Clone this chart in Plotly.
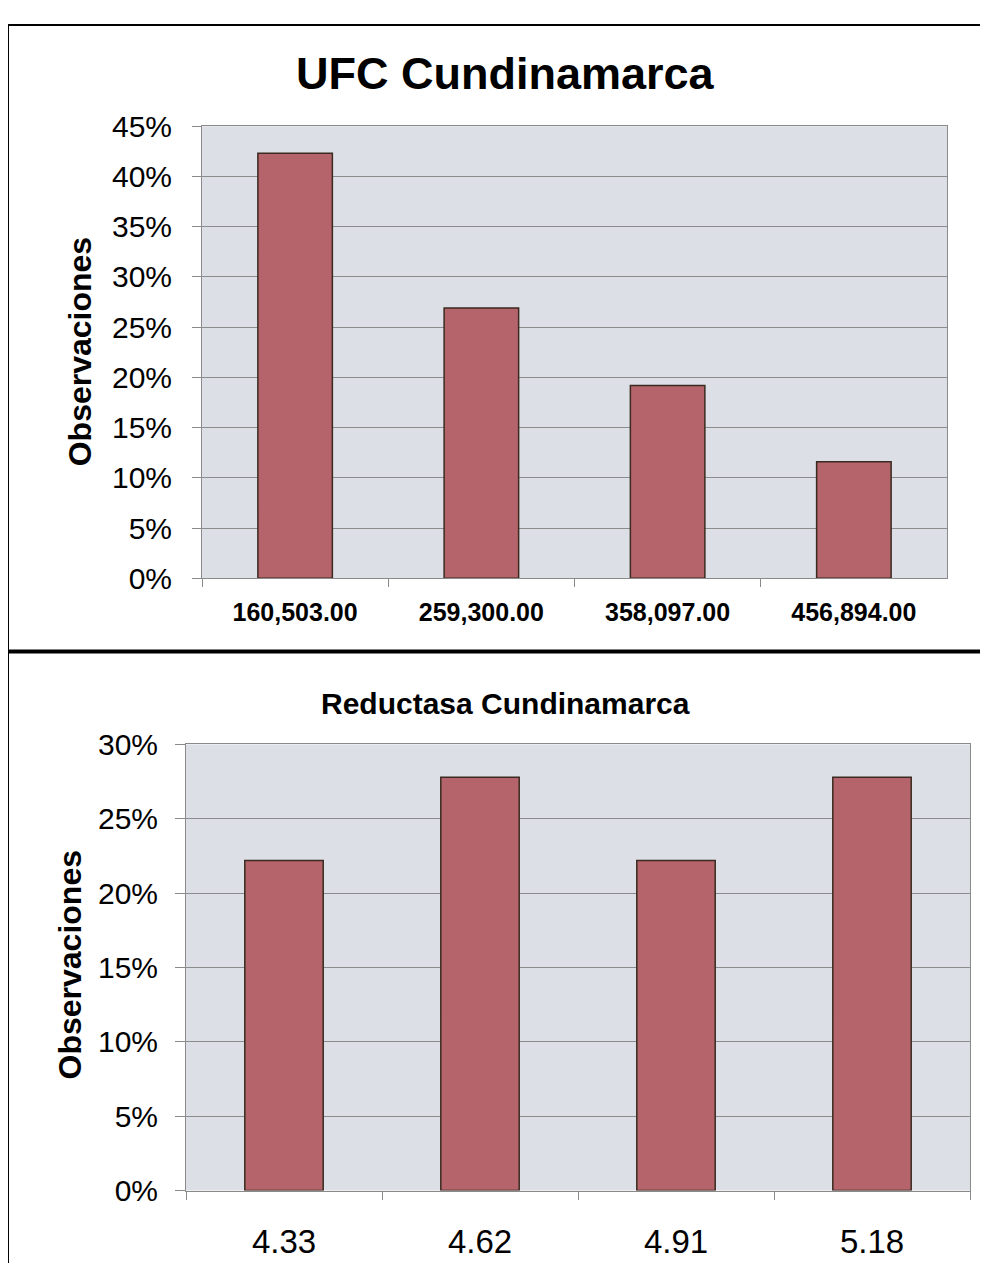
import plotly.graph_objs as go

# top chart: UFC Cundinamarca
ufc_cats = ['160,503.00', '259,300.00', '358,097.00', '456,894.00']
ufc_vals = [0.423, 0.269, 0.192, 0.116]
ufc_ticks = [0, 0.05, 0.10, 0.15, 0.20, 0.25, 0.30, 0.35, 0.40, 0.45]

# bottom chart: Reductasa Cundinamarca
red_cats = ['4.33', '4.62', '4.91', '5.18']
red_vals = [0.222, 0.278, 0.222, 0.278]
red_ticks = [0, 0.05, 0.10, 0.15, 0.20, 0.25, 0.30]

# page margin is 8px; vertical placement corrected for how the page is captured
W, H = 972, 1272
bar_fill = '#b5646c'
bar_line = '#3a2a20'
grid = '#8c8c8c'
bg = '#dcdfe6'
font = 'Liberation Sans, Arial, sans-serif'


def px(x):
    return (x - 8) / W


def py(y):
    fy = (y - 17) / 0.973 - 8
    return min(1.0, 1 - fy / H)


fig = go.Figure()

fig.add_trace(go.Bar(x=ufc_cats, y=ufc_vals, xaxis='x', yaxis='y',
                     marker=dict(color=bar_fill, line=dict(color=bar_line, width=1.5))))
fig.add_trace(go.Bar(x=red_cats, y=red_vals, xaxis='x2', yaxis='y2',
                     marker=dict(color=bar_fill, line=dict(color=bar_line, width=1.5))))

axis_common = dict(showline=True, linecolor='#8a8a8a', linewidth=1, mirror=True,
                   ticks='outside', tickcolor='#8a8a8a', zeroline=False)

fig.update_layout(
    width=W, height=H,
    margin=dict(l=0, r=0, t=0, b=0),
    paper_bgcolor='white', plot_bgcolor=bg,
    showlegend=False, bargap=0.6,
    font=dict(family=font, color='black'),
    xaxis=dict(domain=[px(202), px(947)], anchor='y', tickson='boundaries', ticklen=8,
               showgrid=False, tickfont=dict(size=25, family=font, weight='bold'),
               ticklabelstandoff=12, **axis_common),
    yaxis=dict(domain=[py(578), py(126)], anchor='x', range=[0, 0.45], tickvals=ufc_ticks,
               tickformat='.0%', ticklen=9, showgrid=True, gridcolor=grid, gridwidth=1,
               tickfont=dict(size=30), ticklabelstandoff=14, **axis_common),
    xaxis2=dict(domain=[px(186), px(970)], anchor='y2', tickson='boundaries', ticklen=8,
                showgrid=False, tickfont=dict(size=33), ticklabelstandoff=22, **axis_common),
    yaxis2=dict(domain=[py(1190), py(744)], anchor='x2', range=[0, 0.30], tickvals=red_ticks,
                tickformat='.0%', ticklen=10, showgrid=True, gridcolor=grid, gridwidth=1,
                tickfont=dict(size=30), ticklabelstandoff=11, **axis_common),
)

# titles and axis titles
ann = dict(xref='paper', yref='paper', showarrow=False, xanchor='center', yanchor='middle')
fig.add_annotation(text='<b>UFC Cundinamarca</b>', x=px(505), y=py(73), font=dict(size=45), **ann)
fig.add_annotation(text='<b>Reductasa Cundinamarca</b>', x=px(505), y=py(703), font=dict(size=30), **ann)
fig.add_annotation(text='<b>Observaciones</b>', x=px(80), y=py(352), textangle=-90,
                   font=dict(size=32), **ann)
fig.add_annotation(text='<b>Observaciones</b>', x=px(70), y=py(965), textangle=-90,
                   font=dict(size=32), **ann)

# frame lines
line = dict(type='line', xref='paper', yref='paper')
fig.add_shape(x0=0, x1=1, y0=py(5), y1=py(5), line=dict(color='black', width=2), **line)
fig.add_shape(x0=0, x1=0, y0=py(5), y1=0, line=dict(color='black', width=2), **line)
fig.add_shape(x0=0, x1=1, y0=py(651), y1=py(651), line=dict(color='black', width=4), **line)

fig.write_html("out.html")
